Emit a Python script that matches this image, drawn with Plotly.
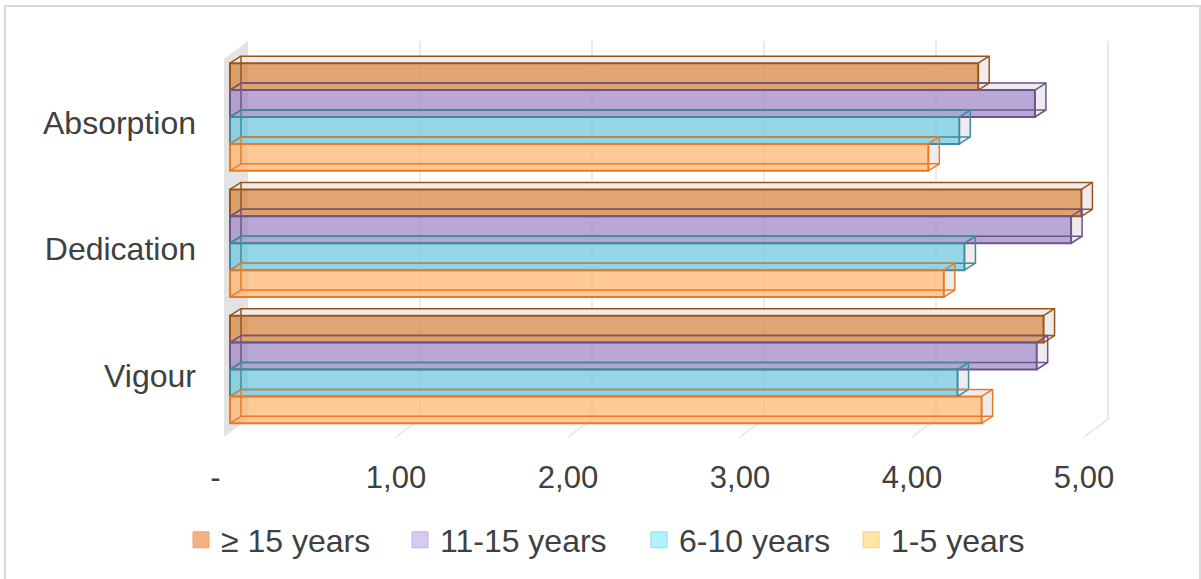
import plotly.graph_objects as go

# ---- data -------------------------------------------------------------
categories = ["Absorption", "Dedication", "Vigour"]
series_names = ["≥ 15 years", "11-15 years", "6-10 years", "1-5 years"]
years_15_plus = [4.35, 4.95, 4.73]
years_11_15 = [4.68, 4.89, 4.69]
years_6_10 = [4.24, 4.27, 4.23]
years_1_5 = [4.06, 4.15, 4.37]
x_tick_values = [0, 1, 2, 3, 4, 5]
x_tick_labels = ["-\u00a0\u00a0", "1,00", "2,00", "3,00", "4,00", "5,00"]

series_values = [years_15_plus, years_11_15, years_6_10, years_1_5]

# ---- styling ----------------------------------------------------------
FONT = "Liberation Sans, Arial, sans-serif"
TEXT = "#404040"
styles = [
    dict(fill="rgba(216,136,70,0.75)", edge="#9A5418", key="#F5B183", key_edge="#EBA26C", lw=174),
    dict(fill="rgba(160,135,196,0.72)", edge="#6B5590", key="#D9C9F2", key_edge="#C4B0E6", lw=194),
    dict(fill="rgba(110,200,222,0.72)", edge="#3D8CA2", key="#B0F2FA", key_edge="#8CDDEA", lw=167),
    dict(fill="rgba(255,178,108,0.70)", edge="#EC7A22", key="#FFE6A6", key_edge="#F5D085", lw=140),
]
FACE_LIGHT = "rgba(238,234,236,0.9)"
WALL = "#E3E3E3"
GRID = "#E4E4E4"

# ---- geometry (pixels of the 1201x579 canvas) -------------------------
W, H = 1201, 579
L, R, T, B = 200, 1121, 30, 450      # plot area edges
X0_PX = 230                          # column of value 0 on the bar fronts
SX = 172.0                           # px per unit along x
YC0_PX = 369.5                       # row of the lowest category centre
SY = 126.25                          # px per category step


def ux(px):
    return px / SX


def row(px_row):
    return (YC0_PX - px_row) / SY


x_range = [(L - X0_PX) / SX, (R - X0_PX) / SX]
y_range = [row(B), row(T)]

BAR_W = 26.9 / SY                    # thickness of one bar
DX, DY = ux(11), 7 / SY              # box depth offsets

# walls / floor of the 3-D frame
WALL_BACK_X, WALL_FRONT_X = ux(18), ux(-6)
WALL_TOP_BACK, WALL_TOP_FRONT = row(41), row(59)
FLOOR_BACK, FLOOR_FRONT = row(419), row(437)

n_cat = len(categories)
positions = [n_cat - 1 - i for i in range(n_cat)]   # first category on top

fig = go.Figure()
shapes = []

# side wall
shapes.append(dict(
    type="path", xref="x", yref="y", layer="below",
    path=(f"M {WALL_FRONT_X},{FLOOR_FRONT} L {WALL_BACK_X},{FLOOR_BACK} "
          f"L {WALL_BACK_X},{WALL_TOP_BACK} L {WALL_FRONT_X},{WALL_TOP_FRONT} Z"),
    fillcolor=WALL, line=dict(width=0),
))

# back-wall gridlines running onto the floor
for v in x_tick_values[1:]:
    shapes.append(dict(
        type="path", xref="x", yref="y", layer="below",
        path=(f"M {v + WALL_BACK_X},{WALL_TOP_BACK} L {v + WALL_BACK_X},{FLOOR_BACK} "
              f"L {v + WALL_FRONT_X},{FLOOR_FRONT}"),
        line=dict(color=GRID, width=1.5),
    ))

n_series = len(series_names)
for k, (name, vals, st) in enumerate(zip(series_names, series_values, styles)):
    slot = n_series - 1 - k                  # first series drawn on top of each group
    offset = -n_series / 2 * BAR_W + slot * BAR_W
    fig.add_trace(go.Bar(
        y=positions, x=vals, orientation="h", name=name,
        width=BAR_W, offset=offset,
        marker=dict(color=st["fill"], line=dict(color=st["edge"], width=2)),
        showlegend=False,
        hovertemplate="%{x:.2f}<extra>" + name + "</extra>",
    ))
    for p, v in zip(positions, vals):
        yb = p + offset
        yt = yb + BAR_W
        # top and end faces
        shapes.append(dict(
            type="path", xref="x", yref="y", layer="between",
            path=f"M 0,{yt} L {v},{yt} L {v + DX},{yt + DY} L {DX},{yt + DY} Z",
            fillcolor=FACE_LIGHT, line=dict(width=0),
        ))
        shapes.append(dict(
            type="path", xref="x", yref="y", layer="between",
            path=f"M {v},{yb} L {v + DX},{yb + DY} L {v + DX},{yt + DY} L {v},{yt} Z",
            fillcolor=FACE_LIGHT, line=dict(width=0),
        ))
        # box edges behind and around the front face
        shapes.append(dict(
            type="path", xref="x", yref="y", layer="above",
            path=(f"M {DX},{yb + DY} L {v + DX},{yb + DY} L {v + DX},{yt + DY} "
                  f"L {DX},{yt + DY} Z "
                  f"M 0,{yb} L {DX},{yb + DY} M {v},{yb} L {v + DX},{yb + DY} "
                  f"M {v},{yt} L {v + DX},{yt + DY} M 0,{yt} L {DX},{yt + DY}"),
            line=dict(color=st["edge"], width=1.5),
        ))

# legend keys
for name, st in zip(series_names, styles):
    fig.add_trace(go.Scatter(
        x=[None], y=[None], mode="markers", name=name,
        marker=dict(symbol="square", size=16, color=st["key"],
                    line=dict(color=st["key_edge"], width=1)),
        legendwidth=st["lw"],
    ))

# outer chart border
pw, ph = R - L, B - T
shapes.append(dict(
    type="rect", xref="paper", yref="paper", layer="below",
    x0=(5 - L) / pw, x1=(1200 - L) / pw,
    y0=(B - 600) / ph, y1=(B - 6) / ph,
    line=dict(color="#D9D9D9", width=2), fillcolor="rgba(0,0,0,0)",
))

fig.update_layout(
    width=W, height=H,
    margin=dict(l=L, r=W - R, t=T, b=H - B),
    paper_bgcolor="white", plot_bgcolor="white",
    font=dict(family=FONT, color=TEXT, size=31),
    barmode="overlay",
    shapes=shapes,
    showlegend=True,
    legend=dict(
        orientation="h", x=(181 - L) / pw, xanchor="left",
        y=(B - 540) / ph, yanchor="middle",
        font=dict(family=FONT, size=32, color=TEXT),
        traceorder="normal", itemclick=False, itemdoubleclick=False,
    ),
    xaxis=dict(
        range=x_range, showgrid=False, zeroline=False, showline=False,
        ticks="", tickmode="array", tickvals=x_tick_values, ticktext=x_tick_labels,
        tickfont=dict(size=31), ticklabelshift=-6, ticklabelstandoff=6,
        fixedrange=True,
    ),
    yaxis=dict(
        range=y_range, showgrid=False, zeroline=False, showline=False,
        ticks="", tickmode="array", tickvals=positions, ticktext=categories,
        tickfont=dict(size=32), ticklabelshift=6, ticklabelstandoff=3,
        fixedrange=True,
    ),
)

fig.write_html("out.html")
